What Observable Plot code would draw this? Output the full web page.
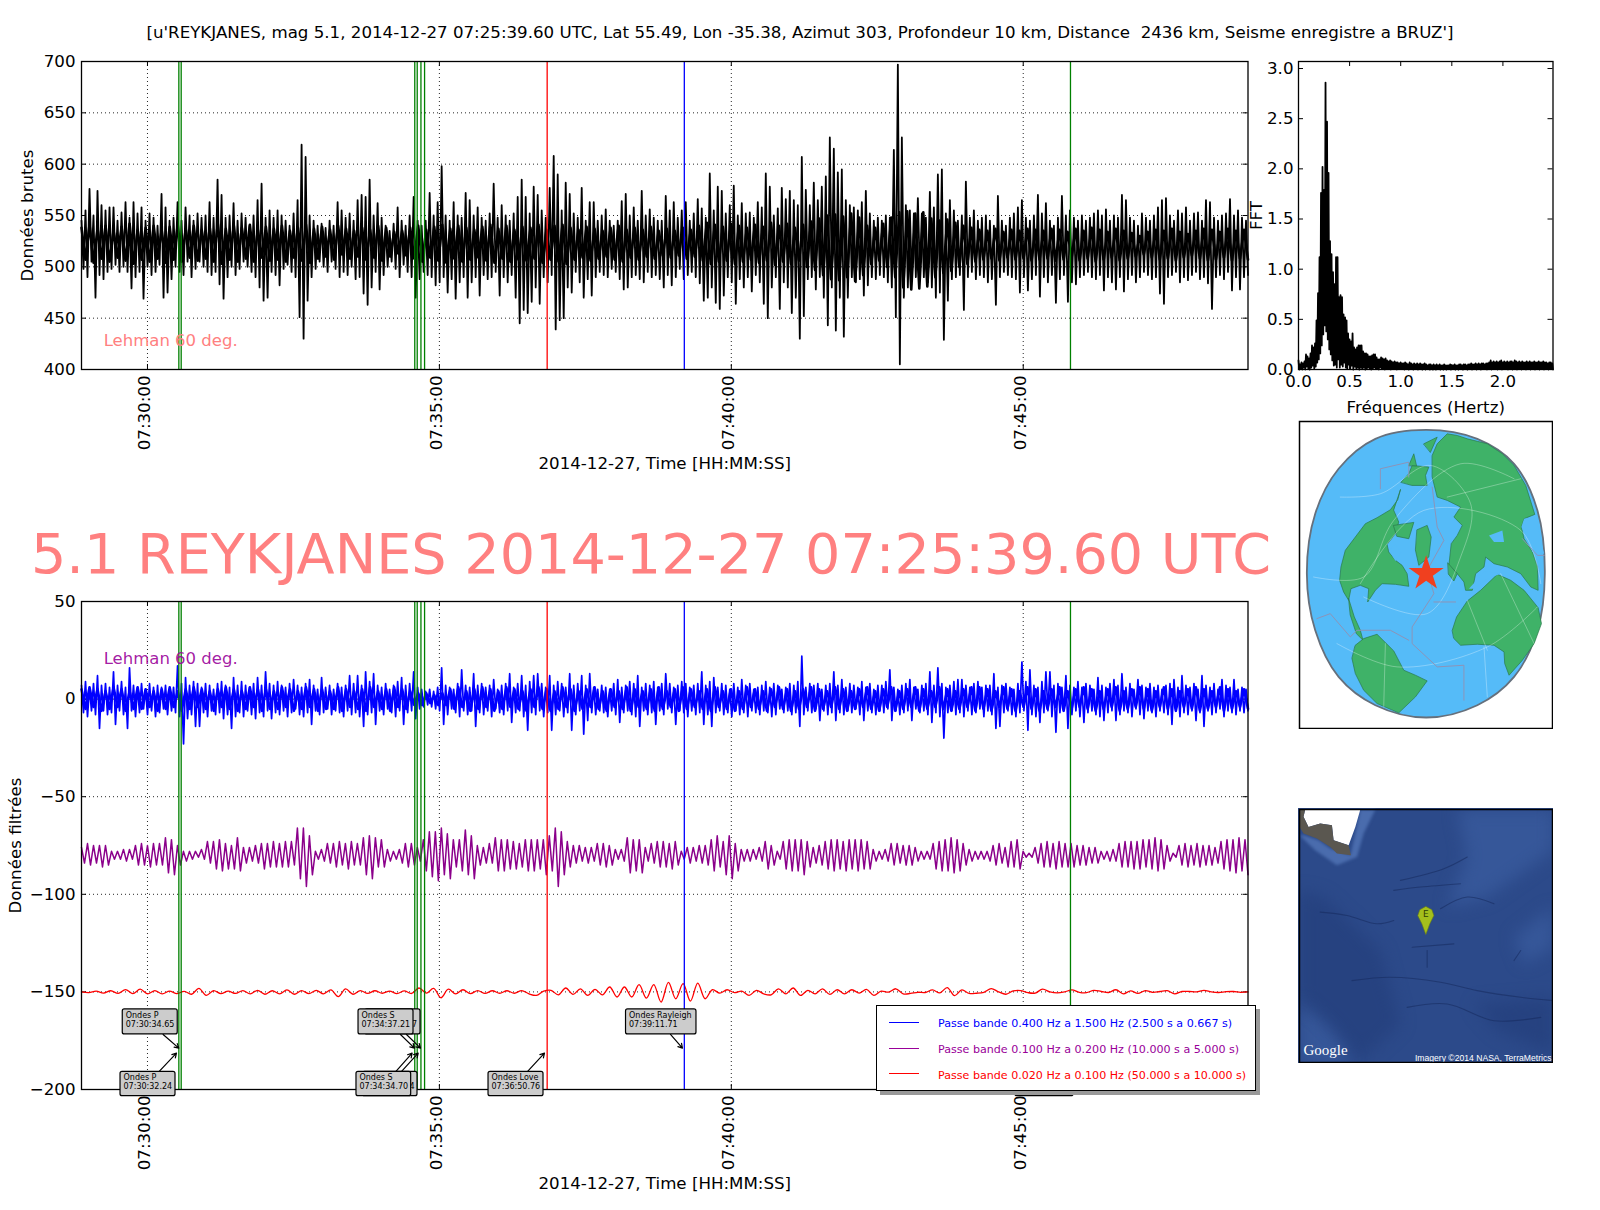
<!DOCTYPE html>
<html>
<head>
<meta charset="utf-8">
<script src="https://cdn.jsdelivr.net/npm/d3@7"></script>
<script src="https://cdn.jsdelivr.net/npm/@observablehq/plot@0.6"></script>
<style>
html,body{margin:0;padding:0;background:#fff;}
body{width:1600px;height:1210px;position:relative;overflow:hidden;font-family:"DejaVu Sans",sans-serif;color:#000;}
.abs{position:absolute;}
.abs svg{background:transparent;}
#title{left:0;width:1600px;top:23px;text-align:center;font-size:16.67px;line-height:20px;white-space:pre;}
#big{left:0;width:1302px;top:520px;text-align:center;font-size:55.6px;line-height:68px;color:#ff8080;white-space:pre;}
#legend{left:876px;top:1005px;width:378px;height:84px;background:#fff;border:1px solid #000;box-shadow:4px 4px 0 #999;z-index:5;font-size:11.1px;}
#legend .row{position:absolute;left:61px;white-space:pre;line-height:12px;}
#legend .sw{position:absolute;left:12px;width:30px;height:1.4px;}
</style>
</head>
<body>
<div id="title" class="abs">[u'REYKJANES, mag 5.1, 2014-12-27 07:25:39.60 UTC, Lat 55.49, Lon -35.38, Azimut 303, Profondeur 10 km, Distance  2436 km, Seisme enregistre a BRUZ']</div>
<div id="top" class="abs" style="left:0;top:0"></div>
<div id="big" class="abs">5.1 REYKJANES 2014-12-27 07:25:39.60 UTC</div>
<div id="bottom" class="abs" style="left:0;top:560px"></div>
<div id="fft" class="abs" style="left:1240px;top:0"></div>
<div id="globe" class="abs" style="left:1298px;top:420px"></div>
<div id="gmap" class="abs" style="left:1298px;top:808px"></div>
<div id="legend" class="abs"></div>
<script>
// ---- time axis (seconds after 07:30:00)
const windowStart = -67.8, windowEnd = 1131;
const timeTicks = [0, 300, 600, 900];
const greenPicks = [32.24, 34.65, 274.70, 277.21, 281.04, 284.77, 948.56];
const redPicks = [410.76];
const bluePicks = [551.71];

// ---- raw seismogram: successive upper and lower swings
const rawHi = [
545,555,576,550,574,560,555,558,558,545,
553,563,548,563,552,558,545,552,548,540,
571,558,545,548,563,545,558,550,545,552,
548,550,563,548,585,570,548,550,562,545,
552,548,540,550,565,581,548,555,548,555,
550,545,540,552,565,619,607,550,545,540,
542,538,545,540,563,555,548,552,545,565,
570,568,585,550,562,548,540,535,542,558,
545,540,550,568,545,540,545,572,550,563,
598,550,545,563,550,548,572,565,550,558,
548,545,552,581,548,560,550,545,552,568,
585,568,552,578,570,555,548,577,608,590,
555,582,571,552,548,577,545,563,563,545,
550,556,545,540,545,564,571,550,558,545,
574,550,556,548,545,545,569,555,563,548,
555,563,545,552,566,557,548,591,555,578,
574,552,560,579,550,562,552,553,548,563,
558,591,578,550,557,577,566,574,565,560,
607,575,560,582,565,578,588,626,615,592,
595,565,560,558,555,563,574,552,545,548,
545,550,548,614,697,626,560,555,552,567,
552,548,573,558,590,595,552,565,555,545,
550,583,548,555,545,548,550,545,540,569,
545,540,548,552,558,565,548,545,550,570,
552,562,545,540,548,569,550,555,548,545,
550,545,548,552,555,550,556,545,550,548,
570,565,548,545,540,552,548,545,550,558,
565,567,550,545,555,552,558,545,552,553,
545,565,563,548,545,550,552,566,550,555,
548,545];
const rawLo = [
498,490,505,470,492,488,495,498,502,495,
500,495,479,490,495,469,500,492,495,502,
470,475,488,500,495,492,505,490,498,505,
500,495,492,495,483,469,490,500,492,498,
505,500,495,490,480,467,470,495,492,482,
498,502,495,490,451,430,467,490,498,505,
500,495,505,498,490,495,492,500,488,490,
474,463,480,495,478,492,500,505,498,490,
502,495,490,470,488,495,492,490,482,485,
490,475,488,469,485,490,470,485,490,472,
492,488,490,495,472,490,485,492,470,445,
458,455,466,480,464,490,485,492,439,448,
450,480,475,495,485,470,488,472,490,495,
492,490,498,495,488,478,480,490,492,488,
485,495,490,492,488,480,492,482,490,498,
488,492,495,490,484,467,470,480,465,459,
472,490,485,464,488,480,490,476,492,485,
464,450,480,490,459,485,480,455,470,430,
452,488,490,478,490,470,443,480,438,470,
432,470,490,485,488,472,482,490,488,492,
490,485,480,451,405,470,480,488,490,495,
490,485,480,470,475,429,467,488,490,492,
458,490,495,488,492,490,485,488,463,490,
495,492,490,488,475,490,477,488,492,471,
490,485,492,465,488,492,466,485,483,490,
492,495,490,488,492,477,490,485,478,490,
476,488,492,485,490,495,492,488,490,474,
464,490,492,495,485,490,487,492,495,488,
490,484,459,490,492,488,495,477,490,478,
490,492];
// dense small swings between the large ones
const rawCoreHi = [
538,541,537,540,535,539,542,536,538,540,536,539,541,537,540,536,538,542,537,540,
538,541,536,539,537,540,535,538,541,537,539,536,540,537,535,538,536,540,538,534,
535,538,540,536,539,541,537,540,538,536,539,541,537,540,536,539,538,541,536,540,
541,538,536,539,537,535,538,540,536,538,536,539,535,537,535,538,536,540,543,541,
539,542,540,538,541,539,543,540,542,538,541,544,547,550,551,549,552,548,540,538,
542,548,553,554,552,553,547,545,546,543,540,538,536,535,537,534,536,535,537,536,
535,537,536,534,537,535,538,536,534,537,535,533,530,534,536,535,537,534,532,535,537,536,534,537,535,536];
const rawCoreLo = [
507,504,508,505,509,506,503,507,505,508,504,507,505,509,506,508,505,503,507,505,
508,505,509,506,507,505,509,506,504,508,510,507,512,508,510,507,509,506,510,513,
511,508,505,509,506,504,508,505,507,509,506,504,508,505,507,506,508,504,507,505,
503,507,509,506,508,510,507,505,509,507,510,508,511,509,511,508,510,506,503,505,
506,503,505,507,504,506,502,505,503,506,500,497,492,488,487,490,486,492,503,506,
500,490,480,478,479,481,490,494,496,500,503,505,507,508,506,509,507,508,506,507,
508,506,507,509,506,508,505,507,509,506,508,510,512,509,507,508,506,509,511,508,506,507,509,506,508,507];

// ---- filtered 0.4-1.5 Hz
const blueHi = [
7,9,6,8,12,7,8,6,14,7,
9,6,16,7,6,8,5,8,6,7,
6,7,5,6,17,8,11,7,9,8,
6,8,7,5,8,9,7,6,11,7,
9,7,6,8,11,7,14,8,7,9,
7,6,8,10,7,6,8,10,7,5,
11,6,7,5,8,6,7,12,8,12,
7,14,9,13,7,6,8,5,7,9,
11,7,8,14,6,5,4,5,4,6,
16,7,6,5,8,15,7,6,13,7,
8,6,7,10,5,7,8,13,6,8,
12,7,9,12,13,8,6,12,7,9,
8,6,13,7,8,12,7,13,6,5,
7,6,5,8,10,6,7,9,8,12,
6,8,7,9,6,8,13,8,6,7,
9,8,6,7,8,14,7,9,11,6,
8,7,5,8,6,10,7,8,5,6,
7,9,6,8,7,5,6,8,7,9,
22,6,8,7,8,5,7,8,14,7,
10,6,8,7,6,9,6,8,5,7,
7,9,15,6,5,7,8,10,6,5,
7,8,14,7,16,8,6,7,9,10,
10,7,6,8,9,6,7,7,13,6,
7,8,6,5,8,19,9,15,7,6,
9,14,14,7,8,6,12,7,6,9,
6,8,7,5,11,7,6,8,10,7,
13,6,8,5,10,7,6,8,6,7,
5,7,8,10,6,12,7,6,8,5,
12,7,6,8,5,10,7,6,10,5,
6,5];
const blueLo = [
-7,-9,-6,-8,-15,-6,-8,-7,-13,-6,
-8,-15,-6,-9,-7,-5,-8,-6,-9,-7,
-5,-8,-6,-7,-9,-23,-10,-8,-14,-14,
-7,-9,-6,-8,-7,-10,-8,-15,-9,-7,
-9,-6,-8,-10,-7,-9,-6,-10,-7,-8,
-6,-9,-7,-5,-8,-9,-7,-13,-6,-8,
-7,-5,-8,-6,-7,-9,-6,-8,-7,-9,
-14,-8,-7,-13,-6,-8,-5,-7,-9,-6,
-13,-7,-6,-10,-5,-4,-3,-4,-5,-6,
-13,-8,-5,-7,-9,-6,-8,-6,-14,-7,
-8,-6,-9,-5,-7,-8,-6,-12,-7,-6,
-9,-16,-7,-8,-6,-9,-7,-16,-8,-6,
-9,-7,-16,-8,-6,-18,-11,-7,-8,-6,
-7,-9,-6,-8,-12,-7,-6,-8,-9,-14,
-6,-8,-7,-13,-6,-8,-5,-7,-13,-6,
-7,-9,-6,-8,-7,-13,-8,-14,-7,-6,
-8,-7,-9,-6,-8,-7,-9,-6,-7,-8,
-6,-7,-9,-8,-5,-7,-6,-8,-7,-14,
-8,-6,-7,-5,-11,-6,-8,-7,-11,-7,
-8,-6,-7,-5,-8,-11,-6,-7,-8,-6,
-7,-5,-11,-6,-8,-7,-6,-11,-5,-7,
-6,-8,-12,-7,-9,-20,-7,-6,-8,-7,
-9,-6,-8,-7,-5,-9,-6,-8,-15,-14,
-7,-6,-8,-9,-7,-6,-16,-8,-9,-12,
-7,-6,-9,-17,-7,-6,-15,-8,-6,-9,
-12,-7,-6,-8,-9,-11,-7,-6,-11,-8,
-6,-7,-9,-5,-8,-10,-6,-7,-9,-6,
-7,-8,-13,-6,-9,-7,-8,-6,-11,-7,
-14,-6,-8,-7,-5,-9,-6,-7,-8,-6,
-7,-6];
const blueCoreHi = [
5,6,5,4,6,5,4,6,5,4,5,6,4,5,6,5,4,5,6,5,
4,6,5,5,4,6,5,4,6,5,5,4,6,5,4,5,6,4,5,6,
5,4,3,3,2,3,5,6,4,5,6,5,4,6,5,4,5,6,5,4,
6,5,4,5,6,4,5,4,6,5,4,5,6,4,5,6,5,4,5,6,
4,5,4,6,5,4,5,6,5,4,5,6,5,4,6,5,4,5,6,4,
5,6,4,5,6,5,4,6,5,4,5,6,6,5,4,6,5,4,6,5,
4,5,6,4,5,6,5,4,5,6,4,5,6,5,4,6,5,4,5,6,
5,4,6,5,4,5];
const blueCoreLo = [
-5,-4,-6,-5,-4,-6,-5,-5,-4,-6,-5,-4,-6,-5,-4,-5,-6,-4,-5,-6,
-5,-4,-6,-5,-5,-4,-6,-5,-4,-6,-5,-5,-6,-4,-5,-6,-4,-5,-6,-4,
-5,-3,-3,-2,-3,-3,-5,-4,-6,-5,-4,-6,-5,-4,-5,-6,-4,-5,-6,-5,
-4,-6,-5,-4,-5,-6,-4,-5,-6,-4,-5,-6,-5,-4,-6,-5,-4,-5,-6,-4,
-5,-6,-5,-4,-5,-6,-4,-5,-6,-5,-4,-6,-5,-4,-5,-6,-5,-4,-5,-6,
-4,-6,-5,-4,-6,-5,-4,-5,-6,-5,-4,-6,-5,-6,-4,-5,-6,-4,-5,-6,
-5,-4,-6,-5,-4,-5,-6,-5,-4,-6,-5,-4,-5,-6,-4,-5,-6,-4,-5,-6,
-5,-4,-6,-5,-4,-5];

// ---- filtered 0.1-0.2 Hz, offset -80: upper swing, lower swing, ...
const purpleSwings = [
-76,-84,-74,-85,-75,-84,-75,-86,-75,-85,-78,-82,-78,-82,-77,-83,-77,-82,-75,-85,
-74,-85,-75,-86,-74,-85,-74,-85,-71,-89,-72,-90,-75,-85,-78,-83,-78,-82,-78,-81,
-77,-82,-73,-84,-73,-87,-72,-88,-74,-87,-75,-87,-71,-88,-76,-84,-76,-83,-75,-84,
-74,-87,-74,-86,-73,-86,-74,-86,-73,-86,-73,-85,-66,-92,-66,-96,-70,-90,-78,-82,
-77,-83,-74,-84,-74,-86,-73,-85,-74,-87,-73,-85,-74,-85,-71,-90,-70,-92,-71,-86,
-72,-86,-77,-83,-78,-82,-77,-84,-74,-86,-74,-85,-76,-83,-72,-88,-68,-91,-68,-93,
-66,-90,-69,-92,-72,-86,-72,-88,-67,-90,-70,-92,-75,-85,-76,-84,-74,-84,-71,-88,
-72,-88,-72,-87,-73,-87,-74,-86,-72,-88,-72,-88,-72,-87,-72,-90,-70,-88,-66,-96,
-68,-90,-73,-86,-75,-84,-75,-83,-76,-84,-76,-83,-74,-85,-74,-86,-75,-85,-77,-82,
-77,-83,-71,-89,-72,-88,-72,-89,-76,-83,-74,-84,-73,-86,-73,-86,-74,-87,-73,-85,
-78,-82,-76,-84,-76,-83,-75,-84,-75,-85,-72,-88,-70,-86,-73,-90,-70,-92,-74,-88,
-77,-83,-77,-83,-77,-82,-76,-83,-73,-87,-75,-85,-78,-82,-73,-87,-72,-88,-72,-88,
-72,-90,-73,-86,-76,-84,-75,-85,-73,-87,-72,-88,-72,-87,-73,-88,-72,-87,-72,-88,
-72,-87,-73,-87,-77,-83,-78,-82,-77,-83,-74,-85,-74,-84,-75,-85,-75,-85,-76,-83,
-78,-82,-78,-82,-74,-87,-73,-88,-72,-88,-71,-89,-72,-88,-74,-85,-77,-83,-78,-82,
-78,-82,-78,-83,-75,-85,-74,-84,-76,-86,-73,-86,-72,-87,-78,-81,-79,-81,-76,-84,
-74,-86,-73,-86,-74,-87,-73,-86,-74,-86,-74,-86,-75,-85,-75,-85,-76,-84,-76,-84,
-78,-82,-78,-83,-77,-83,-74,-86,-73,-86,-73,-87,-73,-87,-72,-86,-72,-87,-71,-88,
-72,-87,-75,-83,-79,-81,-75,-85,-74,-86,-75,-85,-74,-86,-75,-85,-75,-85,-76,-84,
-73,-87,-72,-88,-72,-89,-71,-88,-72,-90];

// ---- filtered 0.02-0.1 Hz, offset -150
const redWave = [
-150,-150.4,-149.6,-150.6,-149.4,-150.8,-148.8,-150.9,-148.6,-151,
-149.3,-151,-149.6,-150.9,-149.7,-151.2,-148.2,-151.8,-149.4,-150.9,
-149.6,-150.8,-149.3,-151,-149.2,-151.2,-149.4,-151,-149,-151.2,
-149.3,-150.9,-149.2,-151,-149,-152.4,-148.5,-151.2,-149.3,-150.8,
-149.4,-150.7,-149.6,-150.9,-149.5,-150.8,-148,-150.6,-148.2,-153,
-148.6,-151,-148.9,-150.9,-149.3,-150.8,-149.4,-150.7,-149.4,-150.7,
-149.3,-151,
-151.8,-149.6,-149.2,-151.5,-148,-151.3,-148.4,-151.8,-148.7,-151.5,
-147.5,-152.6,-147.5,-152.6,-146.3,-153.2,-146.3,-155.2,-145.1,-153.5,
-145.8,-154.7,-145.5,-153.5,-148.9,-150.6,-148.9,-150.4,-149.6,-151.8,
-149.2,-151,-151.5,-148.4,-151,-148,-151.8,-149.2,-151,-148.4,
-151.3,-148.9,-151,-148.9,-150.6,-148.7,-151.8,-149.6,-150.1,-148.4,-151,
-150.8,-150.2,-150.3,-149,-150.5,-147.8,-151.9,-149,-150.8,-150.7,
-150.2,-148.3,-150,-151.2,-149.5,-149.3,-150.4,-150.6,-148.6,-150,
-150.5,-150,-149,-150.2,-150.4,-149.2,-149.8,-150.3,-148.9,-151,
-149.5,-150.8,-149.3,-150.2,-149.8,-149.4,-151,-149.8,-149.8,-150,
-149.2,-150,-150.3,-149.9,-149.8,-150.2,-150];

// ---- spectrum: upper and lower edge of the dense trace
const fftHi = [
.09,.05,.07,.06,.08,.15,.13,.11,.16,.24,.22,.26,.49,.76,1.12,1.76,2.02,1.79,2.86,2.47,
1.96,1.28,1.15,.97,.85,1.12,1.12,.72,.74,.72,.55,.52,.49,.36,.30,.28,.36,.22,.20,.22,
.24,.24,.24,.18,.16,.16,.15,.13,.13,.14,.15,.15,.12,.10,.10,.12,.11,.10,.11,.09,
.08,.09,.08,.07,.08,.07,.07,.06,.07,.06,.06,.07,.06,.05,.07,.06,.05,.06,.05,.06,
.05,.06,.05,.05,.06,.05,.04,.05,.05,.04,.05,.04,.05,.04,.05,.04,.04,.05,.04,.04,
.04,.05,.04,.04,.05,.04,.04,.05,.05,.04,.05,.05,.04,.05,.05,.06,.05,.05,.06,.05,
.06,.05,.06,.06,.05,.06,.06,.07,.09,.07,.08,.07,.08,.07,.08,.09,.07,.08,.07,.08,
.07,.08,.08,.07,.09,.08,.07,.08,.07,.08,.07,.07,.08,.07,.08,.07,.07,.08,.07,.07,
.08,.07,.07,.08,.07,.07,.06,.07,.07,.06];
const fftLo = [
0,.01,0,.02,0,.03,.01,0,.02,.04,.01,.03,.07,.1,.16,.24,.35,.44,.38,.3,
.2,.15,.09,.04,.05,.02,.1,.02,.05,.03,.07,.02,.01,.05,.01,.04,0,.03,.01,.02,
0,.02,.01,.02,0,.01,.02,.01,0,.01,.02,.01,.01,0,.02,.01,.01,0,.01,.01,
.01,0,.01,.01,.01,0,.01,.01,.01,.01,0,.01,.01,0,.01,.01,0,.01,.01,0,
.01,.01,0,.01,0,.01,.01,0,.01,0,.01,0,.01,.01,0,.01,0,.01,0,.01,
.01,0,.01,.01,0,.01,0,.01,.01,0,.01,.01,0,.01,.01,0,.01,.01,0,.01,
.01,0,.01,.01,.01,0,.01,.01,0,.01,.01,.01,0,.01,.01,0,.01,.01,.01,0,
.01,.01,0,.01,.01,0,.01,.01,0,.01,.01,0,.01,.01,0,.01,.01,0,.01,.01,
0,.01,.01,0,.01,.01,0,.01,.01,0];

// ---- annotation boxes (seconds after 07:30:00, filtered-data units)
const noteLabels = ["Ondes \n07:45:48.56","Ondes S\n07:34:41.04","Ondes S\n07:34:44.77","Ondes P\n07:30:34.65","Ondes P\n07:30:32.24","Ondes S\n07:34:37.21","Ondes S\n07:34:34.70","Ondes Love\n07:36:50.76","Ondes Rayleigh\n07:39:11.71"];
const noteBoxLeft  = [892, 221.5, 224, -25.4, -27.7, 216.9, 214.8, 350.5, 491.8];
const noteBoxRight = [951.7, 277.5, 280.6, 31.1, 28.8, 273.4, 271, 407, 564.2];
const noteBoxTop   = [-191, -191, -159, -159, -191, -159, -191, -191, -159];
const noteBoxBottom= [-203.4, -203.4, -171.8, -171.8, -203.4, -171.8, -203.4, -203.4, -171.8];
const noteTailX = [930, 260.7, 266.2, 16.1, 11.6, 260, 254.9, 390.2, 537.5];
const noteTipX  = [948, 278.2, 280.6, 32.2, 29.8, 274.4, 272, 408, 549.8];
const noteTipY  = [-181.4, -181.4, -178.8, -178.8, -181.4, -178.8, -181.4, -181.4, -178.8];

// ---- ticks and labels
const rawTicks = [400,450,500,550,600,650,700];
const filtTicks = [50,0,-50,-100,-150,-200];
const fftYTicks = [0,0.5,1,1.5,2,2.5,3];
const fftXTicks = [0,0.5,1,1.5,2];
const legendLabels = ["Passe bande 0.400 Hz a 1.500 Hz (2.500 s a 0.667 s)","Passe bande 0.100 Hz a 0.200 Hz (10.000 s a 5.000 s)","Passe bande 0.020 Hz a 0.100 Hz (50.000 s a 10.000 s)"];
const legendColors = ["#0000ff","#990099","#ff0000"];

// ---- globe outlines, in the inset's own grid
const globeDisc = [[437,58],[590,85],[700,160],[770,300],[792,490],[770,660],[700,800],[590,885],[437,922],[285,885],[175,800],[105,660],[80,490],[105,310],[175,175],[285,85]];
const landShapes = [
 [[360,238],[352,268],[330,298],[290,322],[255,340],[225,380],[195,420],[182,470],[178,510],[190,545],[205,570],[212,535],[240,525],[265,535],[262,575],[285,540],[305,520],[345,522],[385,528],[380,490],[365,465],[345,450],[325,425],[320,402],[345,370],[355,335],[340,300]],
 [[205,565],[222,620],[240,660],[248,690],[228,670],[210,615]],
 [[225,705],[250,685],[290,672],[340,722],[370,780],[405,795],[440,812],[405,860],[355,908],[290,880],[250,840],[225,790],[215,745]],
 [[410,358],[440,345],[452,380],[445,440],[415,465],[405,420]],
 [[455,135],[470,100],[500,70],[530,75],[560,85],[620,100],[665,130],[700,165],[735,225],[762,312],[730,325],[722,350],[730,385],[755,425],[770,470],[772,540],[750,530],[720,490],[680,470],[640,460],[615,440],[610,470],[585,490],[575,540],[555,540],[550,515],[530,490],[505,465],[512,400],[530,375],[545,345],[520,320],[540,290],[500,270],[470,260],[455,200]],
 [[362,215],[385,190],[395,165],[445,170],[435,195],[440,225],[395,225]],
 [[515,660],[528,620],[560,572],[600,540],[650,492],[690,510],[730,540],[772,592],[782,640],[760,700],[725,750],[685,795],[672,760],[670,725],[640,705],[590,702],[540,705],[520,685]],
 [[502,458],[530,490],[520,512],[504,492]],
 [[385,165],[400,130],[408,165]],
 [[430,100],[470,80],[450,125]],
 [[340,345],[400,336],[385,385],[350,378]]
];
const seaShapes = [
 [[325,420],[345,402],[362,425],[345,452]],
 [[565,535],[612,482],[660,490],[620,505],[578,535]],
 [[625,375],[665,360],[670,395],[640,395]],
 [[730,325],[765,320],[790,430],[755,425],[722,350]]
];
const plateLines = [
 [[455,230],[470,350],[490,390],[440,480],[460,550],[395,650],[395,700],[470,770],[550,765],[550,870]],
 [[300,235],[300,175],[385,155],[385,200]],
 [[110,625],[150,610],[210,680],[230,660],[330,660],[385,690]],
 [[460,575],[525,575]],
 [[725,385],[770,435],[790,435]]
];
const graticule = [
 [[100,500],[250,500],[340,330],[540,160],[700,205]],
 [[180,260],[300,250],[450,165],[570,280],[540,440],[440,610],[250,560]],
 [[240,520],[430,300],[720,360],[780,520]],
 [[170,700],[350,770],[620,710],[770,590]],
 [[315,700],[310,890]],
 [[610,710],[620,860]],
 [[560,570],[620,720]],
 [[660,490],[760,700]],
 [[500,260],[720,205]]
];
const epicentre = [[437,490]];

// ---- satellite inset outlines
const iceShape = [[75,58],[240,58],[225,110],[205,165],[160,150],[155,105],[120,100],[85,110],[70,80]];
const rockShape = [[58,58],[75,58],[70,80],[85,110],[120,100],[155,105],[160,150],[205,165],[212,195],[170,190],[150,170],[110,145],[70,130],[58,110]];
const shelfShape = [[58,135],[105,180],[170,225],[230,200],[250,130],[285,58],[240,58],[225,130],[210,195],[150,175],[115,150],[72,135]];
const brightShapes = [
 [[58,640],[120,680],[180,740],[215,818],[58,818]],
 [[530,58],[818,58],[818,180],[620,320],[500,350],[560,200]],
 [[700,440],[818,350],[818,470],[730,520]]
];
const darkShapes = [
 [[58,300],[130,320],[300,480],[360,700],[230,818],[215,780],[150,700],[58,620]],
 [[580,640],[818,620],[818,790],[650,720]]
];
const ridgeLines = [
 [[215,570],[330,560],[480,575],[590,600],[720,620],[818,630]],
 [[440,480],[440,530]],
 [[340,300],[420,290],[540,280]],
 [[480,355],[560,320],[640,340]],
 [[120,365],[200,375],[290,400],[340,390]],
 [[380,650],[500,640],[640,690],[780,680]],
 [[360,270],[490,235],[560,200]],
 [[720,480],[700,510]],
 [[395,470],[520,460]]
];
const pinShape = [[412,375],[418,358],[436,348],[454,358],[460,375],[448,400],[436,432],[424,400]];

// ---- builders
const start = Date.UTC(2014, 11, 27, 7, 30, 0);
const at = s => new Date(start + s * 1000);
const span = windowEnd - windowStart;
const alternate = (hi, lo) => hi.flatMap((h, i) => [h, lo[i]]);
const trace = values => values.map((v, i) => ({t: at(windowStart + i * span / (values.length - 1)), v}));

const PW = 1300, L = 81, RIGHT = 1247.5;
function timePanel({height, top, bottom, yDomain, yTicks, ylabel, labelOffset, traces, lehman, notes}) {
  const fullTicks = timeTicks.map(at);
  const inner = bottom - top;
  const tickOpts = {stroke: "#000", strokeWidth: 1};
  const marks = [
    Plot.ruleX(fullTicks, {x: d => d, stroke: "#000", strokeWidth: 1, strokeDasharray: "1,3", strokeOpacity: .85}),
    Plot.ruleY(yTicks, {y: d => d, stroke: "#000", strokeWidth: 1, strokeDasharray: "1,3", strokeOpacity: .85}),
    Plot.tickY(yTicks, {y: d => d, insetRight: RIGHT - L - 5, ...tickOpts}),
    Plot.tickY(yTicks, {y: d => d, insetLeft: RIGHT - L - 5, ...tickOpts}),
    Plot.tickX(fullTicks, {x: d => d, insetTop: inner - 5, ...tickOpts}),
    Plot.tickX(fullTicks, {x: d => d, insetBottom: inner - 5, ...tickOpts}),
    ...traces.map(([values, color, w, curve]) => Plot.line(trace(values), {x: "t", y: "v", stroke: color, strokeWidth: w, curve: curve || "linear"})),
    Plot.ruleX(greenPicks.map(at), {x: d => d, stroke: "#008000", strokeWidth: 1.3}),
    Plot.ruleX(redPicks.map(at), {x: d => d, stroke: "#ff0000", strokeWidth: 1.3}),
    Plot.ruleX(bluePicks.map(at), {x: d => d, stroke: "#0000ff", strokeWidth: 1.3}),
    Plot.frame({stroke: "#000", strokeWidth: 1.3}),
    Plot.text(["Lehman 60 deg."], {x: at(-45), y: lehman[0], textAnchor: "start", fill: lehman[1], fillOpacity: lehman[2], fontSize: 16.5, lineAnchor: "middle"}),
    Plot.axisY({ticks: yTicks, tickSize: 0, tickPadding: 6, fontSize: 16.67, label: ylabel, labelAnchor: "center", labelArrow: "none", labelOffset, tickFormat: d => String(d).replace("-", "\u2212")}),
    Plot.axisX({ticks: fullTicks, tickSize: 0, tickPadding: 6, tickRotate: -90, fontSize: 16.67, dx: -3, tickFormat: d3.utcFormat("%H:%M:%S"), label: null}),
    Plot.text(["2014-12-27, Time [HH:MM:SS]"], {frameAnchor: "bottom", lineAnchor: "middle", dy: 94, fontSize: 16.67, fill: "#000"})
  ];
  if (notes) {
    const rows = noteLabels.map((label, i) => ({label, i}));
    rows.forEach(r => {
      const i = r.i;
      const row = [r];
      marks.push(
        Plot.arrow(row, {x1: () => at(noteTailX[i]), y1: () => (noteBoxTop[i] < -180 ? noteBoxTop[i] : noteBoxBottom[i]), x2: () => at(noteTipX[i]), y2: () => noteTipY[i], stroke: "#000", strokeWidth: 1.2, headLength: 6, bend: 0}),
        Plot.rect(row, {x1: () => at(noteBoxLeft[i]), x2: () => at(noteBoxRight[i]), y1: () => noteBoxTop[i], y2: () => noteBoxBottom[i], fill: "#cccccc", stroke: "#000", strokeWidth: 1.2, rx: 2, ry: 2}),
        Plot.text(row, {x: () => at(noteBoxLeft[i]), y: () => noteBoxTop[i], text: "label", textAnchor: "start", lineAnchor: "top", dx: 3, dy: 2, fontSize: 8, fill: "#000", lineHeight: 1.1})
      );
    });
  }
  return Plot.plot({
    width: PW, height, marginLeft: L, marginRight: PW - RIGHT, marginTop: top, marginBottom: height - bottom,
    style: {fontFamily: "'DejaVu Sans'", background: "transparent", overflow: "visible"},
    x: {type: "utc", domain: [at(windowStart), at(windowEnd)], axis: null},
    y: {domain: yDomain, axis: null},
    marks
  });
}

// top panel
document.getElementById("top").append(timePanel({
  height: 480, top: 61, bottom: 369, yDomain: [400, 700], yTicks: rawTicks,
  ylabel: "Données brutes", labelOffset: 60,
  traces: [
    [alternate(rawCoreHi, rawCoreLo), "#000", 2.6],
    [alternate(rawHi, rawLo), "#000", 1.8]
  ],
  lehman: [428, "#ff8080", 1]
}));

// bottom panel
document.getElementById("bottom").append(timePanel({
  height: 640, top: 41, bottom: 529, yDomain: [-200, 50], yTicks: filtTicks,
  ylabel: "Données filtrées", labelOffset: 72,
  traces: [
    [alternate(blueCoreHi, blueCoreLo), "#0000ff", 2.6],
    [alternate(blueHi, blueLo), "#0000ff", 1.7],
    [purpleSwings, "#8b008b", 1.5],
    [redWave, "#ff0000", 1.3, "catmull-rom"]
  ],
  lehman: [20.8, "#990099", .9],
  notes: true
}));

// spectrum
const fftStep = 2.49 / (fftHi.length * 2 - 1);
const fftLine = alternate(fftHi, fftLo).map((v, i) => ({f: i * fftStep, v}));
const FW = 360, FL = 58, FR = 312.5;
document.getElementById("fft").append(Plot.plot({
  width: FW, height: 430, marginLeft: FL, marginRight: FW - FR, marginTop: 61, marginBottom: 61,
  style: {fontFamily: "'DejaVu Sans'", background: "transparent", overflow: "visible"},
  x: {domain: [0, 2.49], axis: null},
  y: {domain: [0, 3.07], axis: null},
  marks: [
    Plot.line(fftLine, {x: "f", y: "v", stroke: "#000", strokeWidth: 1.8}),
    Plot.frame({stroke: "#000", strokeWidth: 1.3}),
    Plot.tickY(fftYTicks, {y: d => d, insetRight: FR - FL - 5, stroke: "#000"}),
    Plot.tickY(fftYTicks, {y: d => d, insetLeft: FR - FL - 5, stroke: "#000"}),
    Plot.tickX(fftXTicks, {x: d => d, insetTop: 303, stroke: "#000"}),
    Plot.tickX(fftXTicks, {x: d => d, insetBottom: 303, stroke: "#000"}),
    Plot.axisY({ticks: fftYTicks, tickSize: 0, tickPadding: 5, fontSize: 16.67, tickFormat: d3.format(".1f"), label: "FFT", labelAnchor: "center", labelArrow: "none", labelOffset: 48}),
    Plot.axisX({ticks: fftXTicks, tickSize: 0, tickPadding: 6, fontSize: 16.67, tickFormat: d3.format(".1f"), label: "Fréquences (Hertz)", labelAnchor: "center", labelArrow: "none", labelOffset: 43})
  ]
}));

// globe inset
const poly = (pts, o) => Plot.line(pts, {x: d => d[0], y: d => d[1], ...o});
document.getElementById("globe").append(Plot.plot({
  width: 255, height: 309, margin: 0,
  style: {background: "#fff", overflow: "hidden"},
  x: {domain: [55, 818], axis: null},
  y: {domain: [958, 30], axis: null},
  marks: [
    poly(globeDisc, {fill: "#55bbf8", stroke: "#66707c", strokeWidth: 1.8, curve: "catmull-rom-closed", imageFilter: "blur(.5px)"}),
    ...landShapes.map(s => poly(s, {fill: "#3fb268", stroke: "#2a7a4a", strokeWidth: .7, curve: "linear-closed", imageFilter: "blur(.5px)"})),
    ...seaShapes.map(s => poly(s, {fill: "#55bbf8", curve: "linear-closed", imageFilter: "blur(.5px)"})),
    ...graticule.map(s => poly(s, {stroke: "#ffffff", strokeOpacity: .3, strokeWidth: 1, curve: "catmull-rom"})),
    ...plateLines.map(s => poly(s, {stroke: "#8c94b8", strokeWidth: 1})),
    Plot.dot(epicentre, {x: d => d[0], y: d => d[1], symbol: "star", r: 11, fill: "#f0401f"}),
    Plot.frame({stroke: "#000", strokeWidth: 1.5, inset: 1})
  ]
}));

// satellite inset
document.getElementById("gmap").append(Plot.plot({
  width: 255, height: 255, margin: 0,
  style: {background: "#2c4a8a", overflow: "hidden", fontFamily: "'DejaVu Sans'"},
  x: {domain: [55, 818], axis: null},
  y: {domain: [818, 55], axis: null},
  marks: [
    ...brightShapes.map(s => poly(s, {fill: "#3a5c9f", curve: "linear-closed", fillOpacity: .7, imageFilter: "blur(8px)"})),
    ...darkShapes.map(s => poly(s, {fill: "#243f7c", curve: "linear-closed", fillOpacity: .7, imageFilter: "blur(8px)"})),
    poly(shelfShape, {fill: "#4a6cad", curve: "linear-closed", imageFilter: "blur(1.5px)"}),
    poly(iceShape, {fill: "#ffffff", curve: "linear-closed"}),
    poly(rockShape, {fill: "#5a5750", curve: "linear-closed", imageFilter: "blur(.6px)"}),
    ...ridgeLines.map(s => poly(s, {stroke: "#16295c", strokeWidth: 1.1, strokeOpacity: .55, curve: "catmull-rom", imageFilter: "blur(.5px)"})),
    poly(pinShape, {fill: "#a4bf1c", stroke: "#6c7f10", strokeWidth: .6, curve: "linear-closed"}),
    Plot.text(["E"], {x: 436, y: 372, fill: "#2c3d05", fontSize: 9}),
    Plot.text(["Google"], {x: 70, y: 778, textAnchor: "start", fill: "#ffffff", fontSize: 15, fontFamily: "'Liberation Serif'"}),
    Plot.text(["Imagery ©2014 NASA, TerraMetrics"], {x: 812, y: 802, textAnchor: "end", fill: "#ffffff", fontSize: 8.6, fontFamily: "'Liberation Sans'"}),
    Plot.frame({stroke: "#000", strokeWidth: 1.5, inset: 1})
  ]
}));

// legend
const legend = document.getElementById("legend");
legendLabels.forEach((label, i) => {
  const row = document.createElement("div");
  row.className = "row";
  row.style.top = (12 + i * 26) + "px";
  row.style.color = legendColors[i];
  row.textContent = label;
  const sw = document.createElement("div");
  sw.className = "sw";
  sw.style.top = (16 + i * 25.5) + "px";
  sw.style.background = legendColors[i];
  legend.append(row, sw);
});
</script>
</body>
</html>
